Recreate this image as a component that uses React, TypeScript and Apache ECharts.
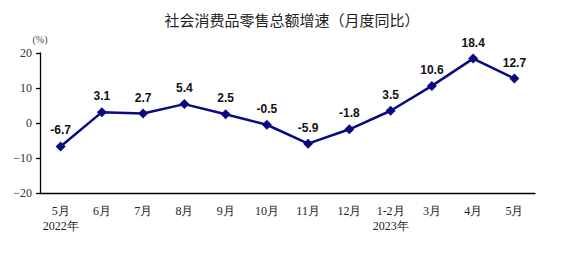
import React, { useEffect, useRef } from "react";
import * as echarts from "echarts";

const categories = ["5月\n2022年", "6月", "7月", "8月", "9月", "10月", "11月", "12月", "1-2月\n2023年", "3月", "4月", "5月"];
const values = [-6.7, 3.1, 2.7, 5.4, 2.5, -0.5, -5.9, -1.8, 3.5, 10.6, 18.4, 12.7];
const yTicks = [-20, -10, 0, 10, 20];
const title = "社会消费品零售总额增速（月度同比）";
const unit = "(%)";

export default function App() {
  const ref = useRef<HTMLDivElement>(null);
  useEffect(() => {
    if (!ref.current) return;
    const chart = echarts.init(ref.current, null, { renderer: "svg" });
    const serif = "'Liberation Serif', 'DejaVu Serif', serif";
    chart.setOption({
      animation: false,
      backgroundColor: "#ffffff",
      title: {
        text: title,
        left: 287,
        top: 7,
        textAlign: "center",
        textStyle: { fontSize: 15, fontWeight: "normal", color: "#222", fontFamily: "'Noto Sans CJK SC', sans-serif" },
      },
      grid: { left: 40, right: 28, top: 53, bottom: 80, containLabel: false },
      xAxis: {
        type: "category",
        data: categories,
        boundaryGap: true,
        axisLine: { onZero: false, lineStyle: { color: "#000", width: 1.3 } },
        axisTick: { inside: true, length: 4, lineStyle: { color: "#000", width: 1.3 } },
        axisLabel: { interval: 0, color: "#222", fontSize: 12, fontFamily: serif, margin: 10, lineHeight: 15 },
      },
      yAxis: {
        type: "value",
        min: yTicks[0],
        max: yTicks[yTicks.length - 1],
        interval: 10,
        name: unit,
        nameLocation: "end",
        nameGap: 9,
        nameTextStyle: { color: "#444", fontSize: 10, fontFamily: serif, align: "center" },
        splitLine: { show: false },
        axisLine: { show: true, lineStyle: { color: "#000", width: 1.3 } },
        axisTick: { show: true, length: 4, lineStyle: { color: "#000", width: 1.3 } },
        axisLabel: {
          color: "#333",
          fontSize: 12,
          fontFamily: serif,
          margin: 8,
          formatter: (v: number) => String(v).replace("-", "−"),
        },
      },
      series: [
        {
          type: "line",
          data: values,
          symbol: "diamond",
          symbolSize: 10,
          lineStyle: { color: "#0a0a80", width: 2.5 },
          itemStyle: { color: "#0a0a80" },
          label: {
            show: true,
            position: "top",
            distance: 5,
            color: "#111",
            fontSize: 12,
            fontWeight: "bold",
            fontFamily: "'Liberation Sans', Arial, sans-serif",
          },
        },
      ],
    });
    return () => chart.dispose();
  }, []);
  return <div ref={ref} style={{ width: 563, height: 273, position: "absolute", left: 0, top: 0 }} />;
}
